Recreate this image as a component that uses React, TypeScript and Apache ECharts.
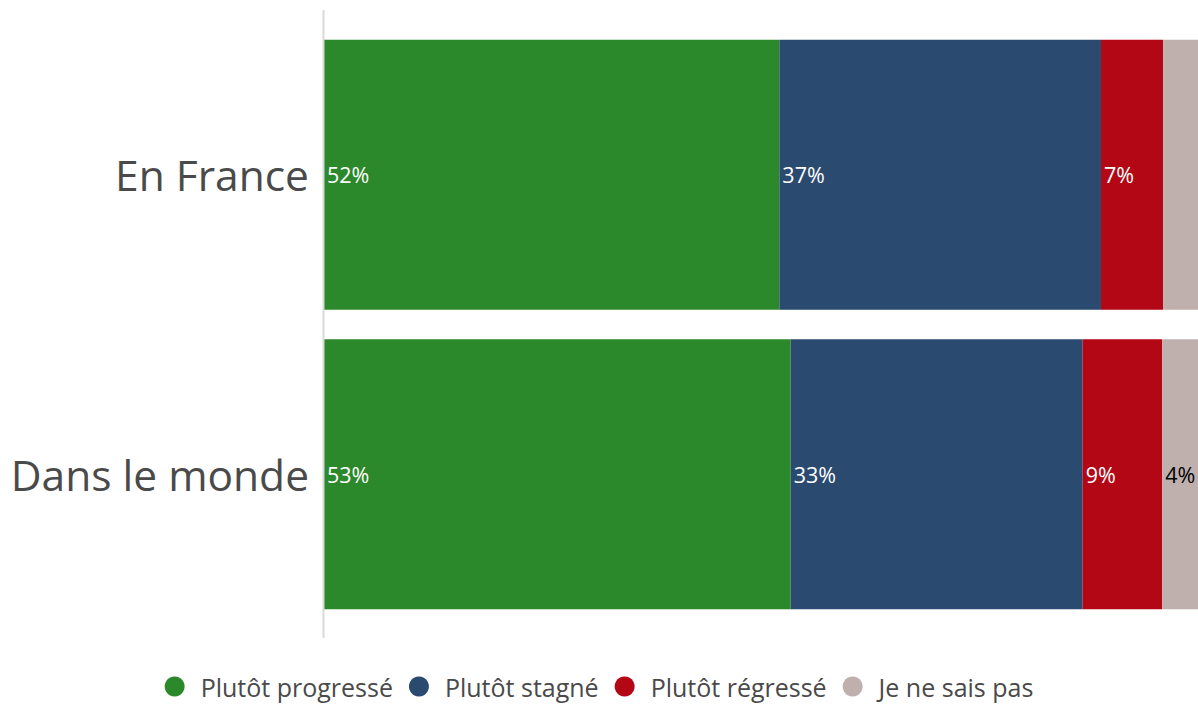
import React, { useEffect, useRef } from "react";
import * as echarts from "echarts";

const categories = ["En France", "Dans le monde"];
const seriesNames = ["Plutôt progressé", "Plutôt stagné", "Plutôt régressé", "Je ne sais pas"];
const progresse = [52.1, 53.4];
const stagne = [36.8, 33.4];
const regresse = [7.1, 9.1];
const nesaispas = [4.0, 4.1];
const colors = ["#2b882b", "#2b4a70", "#b30716", "#bfb0ae"];
const labelColors = ["#ffffff", "#ffffff", "#ffffff", "#000000"];
const hiddenLabels = [[], [], [], [0]];

export default function App() {
  const ref = useRef<HTMLDivElement>(null);
  useEffect(() => {
    if (!ref.current) return;
    const chart = echarts.init(ref.current, undefined, { renderer: "svg" });
    const values = [progresse, stagne, regresse, nesaispas];
    const font = "'Open Sans', sans-serif";
    chart.setOption({
      animation: false,
      grid: { left: 324, right: 0, top: 25, bottom: 80 },
      xAxis: { type: "value", min: 0, max: 100, show: false },
      yAxis: {
        type: "category",
        data: categories,
        inverse: true,
        axisLine: { show: false },
        axisTick: { show: false },
        axisLabel: { fontSize: 42.5, color: "#4a4a4a", fontFamily: font, margin: 15 },
      },
      legend: {
        bottom: 0,
        left: "center",
        icon: "circle",
        itemWidth: 20,
        itemHeight: 20,
        itemGap: 16,
        textStyle: { fontSize: 25, color: "#4a4a4a", fontFamily: font, padding: [0, 0, 0, 11] },
        data: seriesNames,
      },
      graphic: [
        {
          type: "line",
          shape: { x1: 323.5, y1: 10, x2: 323.5, y2: 638 },
          style: { stroke: "#d9d9d9", lineWidth: 2 },
          z: 10,
        },
      ],
      series: seriesNames.map((name, i) => ({
        name,
        type: "bar",
        stack: "total",
        barWidth: 270,
        itemStyle: { color: colors[i] },
        label: {
          show: true,
          position: "insideLeft",
          distance: 3,
          formatter: (p: any) => Math.round(p.value) + "%",
          color: labelColors[i],
          fontSize: 21.5,
          fontFamily: font,
        },
        data: values[i].map((v, j) =>
          (hiddenLabels[i] as number[]).includes(j) ? { value: v, label: { show: false } } : v
        ),
      })),
    });
    return () => chart.dispose();
  }, []);
  return (
    <div
      ref={ref}
      style={{ position: "fixed", left: 0, top: 0, width: 1198, height: 704, background: "#fff" }}
    />
  );
}
